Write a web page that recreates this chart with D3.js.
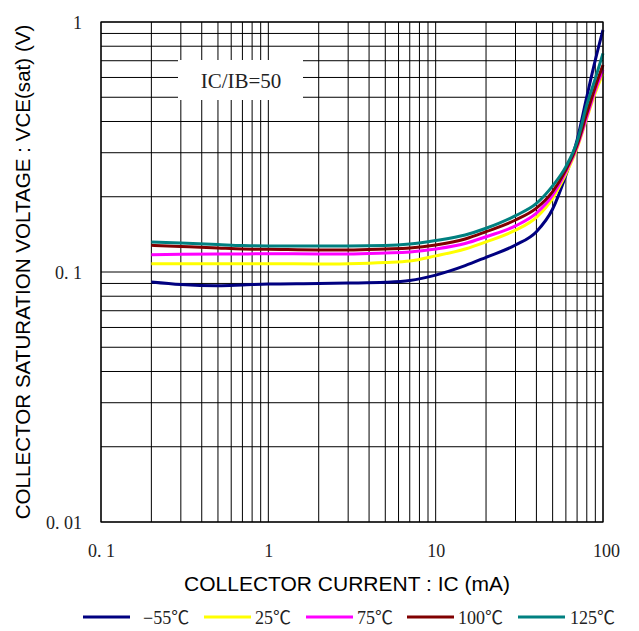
<!DOCTYPE html>
<html><head><meta charset="utf-8">
<script src="https://cdn.jsdelivr.net/npm/d3@7"></script>
<style>body{margin:0;background:#fff}svg{display:block}</style>
</head><body><svg id="c" width="639" height="631"></svg>
<script>
// ---- data ----
const IC = [0.2, 0.3, 0.5, 0.7, 1, 2, 3, 5, 7, 10, 15, 20, 30, 40, 50, 60, 70, 80, 90, 100];
const seriesNames = ["\u221255\u2103", "25\u2103", "75\u2103", "100\u2103", "125\u2103"];
const seriesColors = ["#000080", "#ffff00", "#ff00ff", "#800000", "#008080"];
const vM55 = [0.0912,0.0891,0.0881,0.0887,0.0895,0.0899,0.0903,0.0910,0.0925,0.0972,0.1060,0.1145,0.1282,0.145,0.1786,0.244,0.337,0.502,0.705,0.929];
const v25  = [0.108,0.108,0.108,0.108,0.108,0.1076,0.108,0.1092,0.1107,0.116,0.1236,0.132,0.147,0.1655,0.197,0.247,0.313,0.412,0.521,0.623];
const v75  = [0.1173,0.1177,0.118,0.118,0.1184,0.118,0.118,0.1191,0.1202,0.1236,0.130,0.1384,0.153,0.172,0.203,0.252,0.317,0.418,0.535,0.643];
const v100 = [0.1279,0.1265,0.1247,0.1236,0.1233,0.1225,0.1225,0.1236,0.1247,0.1282,0.1355,0.145,0.1614,0.180,0.2096,0.256,0.322,0.431,0.551,0.673];
const v125 = [0.1318,0.1306,0.1288,0.1276,0.1271,0.1271,0.1271,0.1276,0.1294,0.1337,0.1406,0.1496,0.168,0.188,0.221,0.264,0.332,0.466,0.595,0.749];
const seriesValues = [vM55, v25, v75, v100, v125];
const xTickValues = [0.1, 1, 10, 100];
const xTickLabels = ["0. 1", "1", "10", "100"];
const yTickValues = [0.01, 0.1, 1];
const yTickLabels = ["0. 01", "0. 1", "1"];
const annotation = "IC/IB=50";
const xTitle = "COLLECTOR CURRENT : IC (mA)";
const yTitle = "COLLECTOR SATURATION VOLTAGE : VCE(sat) (V)";

// ---- layout ----
const L = 101, R = 603, T = 22, B = 522;
const svg = d3.select("#c");
const x = d3.scaleLog().domain([0.1, 100]).range([L, R]);
const y = d3.scaleLog().domain([0.01, 1]).range([B, T]);
const serif = "'Liberation Serif','Noto Sans CJK JP',serif";
const sans = "'Liberation Sans',Arial,sans-serif";

function decadeTicks(lo, hi) {
  const out = [];
  for (let e = Math.log10(lo); e < Math.log10(hi); e++)
    for (let k = 1; k <= 9; k++) out.push(k * Math.pow(10, e));
  out.push(hi);
  return out.map(v => +v.toPrecision(6));
}
const gx = decadeTicks(0.1, 100), gy = decadeTicks(0.01, 1);

const grid = svg.append("g").attr("stroke", "#000").attr("stroke-width", 1);
grid.selectAll("line.v").data(gx).join("line").attr("class","v")
  .attr("x1", d => x(d)).attr("x2", d => x(d)).attr("y1", T).attr("y2", B);
grid.selectAll("line.h").data(gy).join("line").attr("class","h")
  .attr("y1", d => y(d)).attr("y2", d => y(d)).attr("x1", L).attr("x2", R);

// annotation box
svg.append("rect").attr("x", 178).attr("y", 60).attr("width", 125).attr("height", 40).attr("fill", "#fff");
svg.append("text").attr("x", 241).attr("y", 81).attr("text-anchor", "middle").attr("dominant-baseline", "central")
  .attr("font-family", serif).attr("font-size", 21).attr("fill", "#222").text(annotation);

// curves
const line = d3.line().x(d => x(d[0])).y(d => y(d[1])).curve(d3.curveMonotoneX);
seriesValues.forEach((vals, i) => {
  svg.append("path").datum(IC.map((c, j) => [c, vals[j]]))
    .attr("d", line).attr("fill", "none").attr("stroke", seriesColors[i]).attr("stroke-width", 3)
    .attr("stroke-linejoin", "round");
});

// border
svg.append("rect").attr("x", L).attr("y", T).attr("width", R - L).attr("height", B - T)
  .attr("fill", "none").attr("stroke", "#000").attr("stroke-width", 1.2);

// axes (labels only)
const xAxis = d3.axisBottom(x).tickValues(xTickValues).tickFormat((d, i) => xTickLabels[i]).tickSize(0).tickPadding(0);
const gxA = svg.append("g").attr("transform", `translate(0,${B + 22})`).call(xAxis);
gxA.select(".domain").remove();
gxA.selectAll("text").attr("font-family", serif).attr("font-size", 18).attr("fill", "#222").attr("dy", "0.7em");
gxA.selectAll(".tick").filter(d => d === 100).select("text").attr("dx", 3);

const yAxis = d3.axisLeft(y).tickValues(yTickValues).tickFormat((d, i) => yTickLabels[i]).tickSize(0).tickPadding(0);
const gyA = svg.append("g").attr("transform", `translate(${L - 19},0)`).call(yAxis);
gyA.select(".domain").remove();
gyA.selectAll("text").attr("font-family", serif).attr("font-size", 18).attr("fill", "#222").attr("dy", "0.35em");

// titles
svg.append("text").attr("x", 347).attr("y", 583).attr("text-anchor", "middle").attr("dominant-baseline", "central")
  .attr("font-family", sans).attr("font-size", 21).attr("fill", "#000").text(xTitle);
svg.append("text").attr("transform", "translate(22,272) rotate(-90)").attr("text-anchor", "middle")
  .attr("dominant-baseline", "central").attr("font-family", sans).attr("font-size", 20.6).attr("fill", "#000").text(yTitle);

// legend
const legendLineX = [83, 204, 306, 407, 518];
const legendTextX = [143, 255, 357, 458, 570];
const lg = svg.append("g");
seriesNames.forEach((n, i) => {
  lg.append("line").attr("x1", legendLineX[i]).attr("x2", legendLineX[i] + 47).attr("y1", 617).attr("y2", 617)
    .attr("stroke", seriesColors[i]).attr("stroke-width", 3);
  lg.append("text").attr("x", legendTextX[i]).attr("y", 618).attr("dominant-baseline", "central")
    .attr("font-family", serif).attr("font-size", 18).attr("fill", "#222").text(n);
});
</script></body></html>
